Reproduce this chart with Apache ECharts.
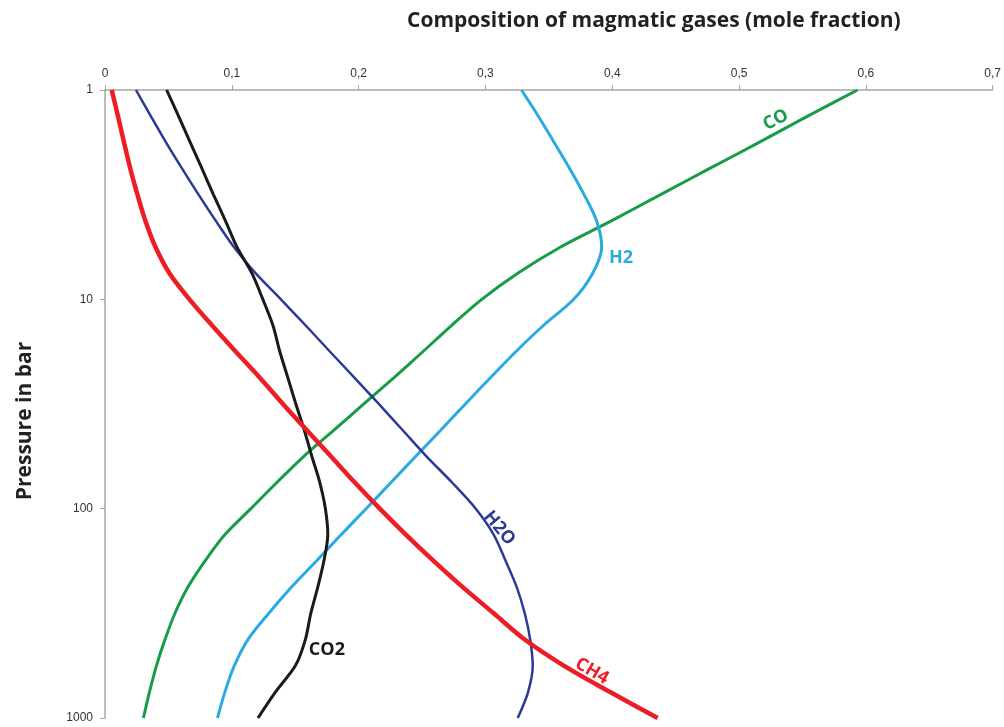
<!DOCTYPE html>
<html>
<head>
<meta charset="utf-8">
<script src="https://cdn.jsdelivr.net/npm/echarts@6/dist/echarts.min.js"></script>
<style>html,body{margin:0;padding:0;background:#fff}#c{width:1004px;height:727px}</style>
</head>
<body>
<div id="c"></div>
<script>
// pressures sampled at 1/8 decade steps (bar)
var pressures = [1, 1.33, 1.78, 2.37, 3.16, 4.22, 5.62, 7.5, 10, 13.3, 17.8, 23.7, 31.6, 42.2, 56.2, 75, 100, 133, 178, 237, 316, 422, 562, 750, 1000];
var ch4 = [0.0053, 0.0102, 0.0150, 0.0199, 0.0256, 0.0319, 0.0398, 0.0508, 0.0666, 0.0843, 0.1032, 0.1221, 0.1403, 0.1592, 0.1781, 0.1970, 0.2167, 0.2372, 0.2593, 0.2821, 0.3065, 0.3310, 0.3617, 0.3980, 0.4358];
var h2o = [0.0244, 0.0360, 0.0481, 0.0607, 0.0738, 0.0874, 0.1016, 0.1187, 0.1387, 0.1581, 0.1775, 0.1968, 0.2159, 0.2348, 0.2535, 0.2737, 0.2924, 0.3065, 0.3160, 0.3247, 0.3310, 0.3353, 0.3373, 0.3337, 0.3255];
var co2 = [0.0486, 0.0579, 0.0672, 0.0764, 0.0855, 0.0950, 0.1040, 0.1158, 0.1245, 0.1324, 0.1379, 0.1442, 0.1505, 0.1572, 0.1631, 0.1694, 0.1738, 0.1757, 0.1726, 0.1678, 0.1623, 0.1580, 0.1502, 0.1345, 0.1206];
var co = [0.5934, 0.5545, 0.5158, 0.4769, 0.4381, 0.3993, 0.3593, 0.3255, 0.2971, 0.2734, 0.2506, 0.2277, 0.2041, 0.1805, 0.1568, 0.1355, 0.1150, 0.0946, 0.0788, 0.0654, 0.0552, 0.0473, 0.0406, 0.0351, 0.0303];
var h2 = [0.3284, 0.3416, 0.3542, 0.3664, 0.3778, 0.3877, 0.3917, 0.3846, 0.3696, 0.3459, 0.3239, 0.3039, 0.2842, 0.2647, 0.2451, 0.2255, 0.2059, 0.1863, 0.1667, 0.1471, 0.1292, 0.1127, 0.1020, 0.0946, 0.0887];
var yTicks = [1, 10, 100, 1000];
var xTicks = [0, 0.1, 0.2, 0.3, 0.4, 0.5, 0.6, 0.7];

// label anchors [x, pressure, rotation]
var labelCO = [0.529, 1.39, 28];
var labelH2 = [0.407, 6.35, 0];
var labelH2O = [0.311, 124, -50];
var labelCO2 = [0.175, 474, 0];
var labelCH4 = [0.384, 597, -30];

function pairs(vals) { return vals.map(function (v, i) { return [v, pressures[i]]; }); }
var FONT = '"Open Sans", "DejaVu Sans", sans-serif';

function mk(name, vals, color, width, lab) {
  return {
    name: name, type: 'line', data: pairs(vals), smooth: 0.3, symbol: 'none',
    lineStyle: { color: color, width: width }, z: 3,
    markPoint: {
      symbol: 'circle', symbolSize: 0, silent: true,
      data: [{ coord: [lab[0], lab[1]], value: name }],
      label: { show: true, position: 'inside', formatter: name, rotate: lab[2],
        color: color, fontFamily: FONT, fontWeight: 'bold', fontSize: 18 }
    }
  };
}

var chart = echarts.init(document.getElementById('c'), null, { renderer: 'canvas' });
chart.setOption({
  animation: false,
  backgroundColor: '#fff',
  title: {
    text: 'Composition of magmatic gases (mole fraction)',
    left: 402, top: 6,
    textStyle: { fontFamily: FONT, fontWeight: 'bold', fontSize: 21, color: '#231f20' }
  },
  graphic: [{
    type: 'text', x: 25, y: 421, rotation: Math.PI / 2,
    style: { text: 'Pressure in bar', fontFamily: FONT, fontWeight: 'bold', fontSize: 21,
      fill: '#231f20', align: 'center', verticalAlign: 'middle' }
  }],
  grid: { left: 105, top: 90, right: 11, bottom: 9 },
  xAxis: {
    type: 'value', position: 'top', min: 0, max: 0.7, interval: 0.1,
    axisLine: { lineStyle: { color: '#a6a6a6', width: 1.5 } },
    axisTick: { show: true, length: 5, lineStyle: { color: '#a6a6a6' } },
    splitLine: { show: false },
    axisLabel: { margin: 10, color: '#333', fontFamily: '"Liberation Sans", sans-serif', fontSize: 12,
      formatter: function (v) {
        var idx = xTicks.findIndex(function (t) { return Math.abs(t - v) < 1e-9; });
        var t = idx >= 0 ? xTicks[idx] : v;
        return t === 0 ? '0' : t.toFixed(1).replace('.', ',');
      } }
  },
  yAxis: {
    type: 'log', logBase: 10, inverse: true, min: yTicks[0], max: yTicks[yTicks.length - 1],
    axisLine: { show: true, lineStyle: { color: '#a6a6a6', width: 1.5 } },
    axisTick: { show: true, length: 5, lineStyle: { color: '#a6a6a6' } },
    splitLine: { show: false },
    minorTick: { show: false },
    axisLabel: { margin: 12, color: '#333', fontFamily: '"Liberation Sans", sans-serif', fontSize: 12,
      formatter: function (v) { return String(Math.round(v)); } }
  },
  series: [
    mk('CO', co, '#179c48', 3, labelCO),
    mk('H2', h2, '#29abe2', 3, labelH2),
    mk('H2O', h2o, '#2b3a96', 2.5, labelH2O),
    mk('CO2', co2, '#1a1a1a', 3, labelCO2),
    mk('CH4', ch4, '#ee1c25', 4.5, labelCH4)
  ]
});
</script>
</body>
</html>
